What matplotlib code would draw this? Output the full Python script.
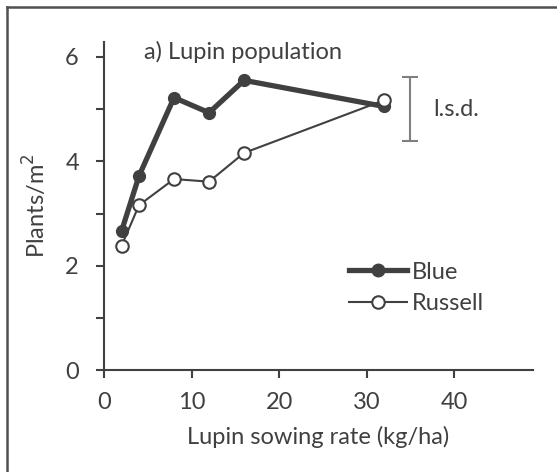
import matplotlib
matplotlib.use("Agg")
import matplotlib.pyplot as plt
from matplotlib.lines import Line2D

plt.rcParams['font.family'] = ['Lato', 'DejaVu Sans']

sowing_rate = [2, 4, 8, 12, 16, 32]
blue = [2.66, 3.72, 5.22, 4.93, 5.55, 5.05]
russell = [2.38, 3.16, 3.66, 3.61, 4.16, 5.17]
lsd_x = 35
lsd_center = 5.0
lsd_half = 0.62

xticks = [0, 10, 20, 30, 40]
yticks = [0, 2, 4, 6]

dark = '#404040'
fs = 17
W, H = 557, 472
fig = plt.figure(figsize=(W / 100, H / 100), dpi=100)
ax = fig.add_axes([104 / W, (H - 370.2) / H, (533 - 104) / W, (370.2 - 41.7) / H])

ax.plot(sowing_rate, blue, '-o', color=dark, lw=3.8, ms=8.5, mfc=dark, mec=dark, zorder=3, label='Blue')
ax.plot(sowing_rate, russell, '-o', color=dark, lw=1.5, ms=9, mfc='white', mec=dark, mew=1.5, zorder=4, label='Russell')

ax.errorbar([lsd_x], [lsd_center], yerr=[[lsd_half], [lsd_half]], fmt='none', ecolor='#808080',
            elinewidth=1.5, capsize=6, capthick=1.5)
ax.text(lsd_x + 2.6, lsd_center, 'l.s.d.', fontsize=fs, color=dark, va='center', ha='left')
ax.text(4.6, 6.1, 'a) Lupin population', fontsize=fs, color=dark, va='center', ha='left')

ax.set_xlim(0, 49)
ax.set_ylim(0, 6.29)
ax.set_xticks(xticks)
ax.set_yticks(yticks)
ax.set_yticks([1, 3, 5], minor=True)
for s in ['top', 'right']:
    ax.spines[s].set_visible(False)
for s in ['left', 'bottom']:
    ax.spines[s].set_color(dark)
    ax.spines[s].set_linewidth(1.5)
ax.tick_params(which='both', direction='out', length=6, width=1.5, color=dark, labelcolor=dark, labelsize=fs, pad=12)
ax.tick_params(axis='x', pad=10)
ax.set_xlabel('Lupin sowing rate (kg/ha)', fontsize=fs, color=dark, labelpad=9)
ax.set_ylabel('Plants/m$^2$', fontsize=fs, color=dark, labelpad=11)

handles = [
    Line2D([], [], color=dark, lw=3.8, marker='o', ms=9, mfc=dark, mec=dark),
    Line2D([], [], color=dark, lw=1.5, marker='o', ms=9, mfc='white', mec=dark, mew=1.5),
]
leg = ax.legend(handles, ['Blue', 'Russell'], loc='center left', bbox_to_anchor=((349 - 104) / (533 - 104), 0.25),
                frameon=False, fontsize=fs, handlelength=2.45, handletextpad=0.2, labelspacing=0.45,
                labelcolor=dark, borderaxespad=0, borderpad=0)

# figure frame (left and top visible)
fig.add_artist(Line2D([7 / W, 7 / W], [0, 1 - 7 / H], color='#505050', lw=1.8, transform=fig.transFigure))
fig.add_artist(Line2D([7 / W, 1], [1 - 7 / H, 1 - 7 / H], color='#505050', lw=1.8, transform=fig.transFigure))

fig.savefig('out.png', dpi=100)
